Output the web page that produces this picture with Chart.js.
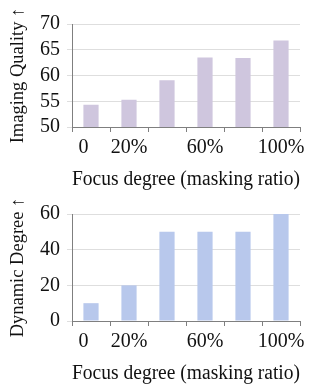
<!DOCTYPE html>
<html>
<head>
<meta charset="utf-8">
<script src="https://cdn.jsdelivr.net/npm/chart.js@4.4.1/dist/chart.umd.min.js"></script>
<style>
    body { margin: 0; background: #fff; }
    .box { position: relative; width: 310px; }
    #topBox { height: 195px; }
    #bottomBox { height: 194px; }
</style>
</head>
<body>
<div class="box" id="topBox"><canvas id="topChart"></canvas></div>
<div class="box" id="bottomBox"><canvas id="bottomChart"></canvas></div>
<script>
// categories (masking ratio), only some of them labelled
const xLabels = ['0', '20%', '', '60%', '', '100%'];

// top panel
const qualityValues = [54.3, 55.3, 59.1, 63.5, 63.4, 66.8];
const qualityTicks = [50, 55, 60, 65, 70];

// bottom panel
const dynamicValues = [10, 20, 50, 50, 50, 60];
const dynamicTicks = [0, 20, 40, 60];

const serif = '"Liberation Serif", "Times New Roman", "DejaVu Serif", serif';
const axisColor = '#7f7f7f';
const gridColor = '#dedede';

function makeChart(el, values, ticks, barColor, yTitle, topPad) {
    return new Chart(el, {
        type: 'bar',
        data: {
            labels: xLabels,
            datasets: [{
                data: values,
                backgroundColor: barColor,
                borderWidth: 0,
                categoryPercentage: 1,
                barPercentage: 0.4,
            }]
        },
        options: {
            responsive: true,
            maintainAspectRatio: false,
            animation: false,
            layout: { padding: { top: topPad, right: 10, bottom: 0, left: 0 } },
            plugins: {
                legend: { display: false },
                tooltip: { enabled: false },
            },
            scales: {
                x: {
                    grid: {
                        display: true,
                        drawOnChartArea: false,
                        drawTicks: true,
                        tickLength: 5,
                        color: axisColor,
                    },
                    border: { display: true, color: axisColor, width: 1 },
                    ticks: {
                        color: '#111',
                        padding: 4,
                        maxRotation: 0,
                        autoSkip: false,
                        font: { family: serif, size: 20 },
                        // the "0" sits a bit left of its bar in the original
                        callback: (v, i) => i === 0 ? xLabels[i] + '   ' : xLabels[i],
                    },
                    title: {
                        display: true,
                        text: 'Focus degree (masking ratio)',
                        color: '#111',
                        font: { family: serif, size: 20 },
                        padding: { top: 4, bottom: 3 },
                    },
                    afterFit: (scale) => { scale.height = 68; },
                },
                y: {
                    min: ticks[0],
                    max: ticks[ticks.length - 1],
                    afterBuildTicks: (scale) => { scale.ticks = ticks.map(v => ({ value: v })); },
                    grid: { color: gridColor, tickLength: 5 },
                    border: { display: true, color: axisColor, width: 1 },
                    ticks: {
                        color: '#111',
                        padding: 7,
                        autoSkip: false,
                        font: { family: serif, size: 20 },
                    },
                    title: {
                        display: true,
                        text: yTitle,
                        color: '#111',
                        font: { family: serif, size: 18.5 },
                        padding: { top: 7, bottom: 0 },
                    },
                    afterFit: (scale) => { scale.width = 72; },
                }
            }
        }
    });
}

makeChart(document.getElementById('topChart'), qualityValues, qualityTicks,
    '#cfc6de', 'Imaging Quality \u2191', 24);
makeChart(document.getElementById('bottomChart'), dynamicValues, dynamicTicks,
    '#b8c8ec', 'Dynamic Degree \u2191', 19);
</script>
</body>
</html>
